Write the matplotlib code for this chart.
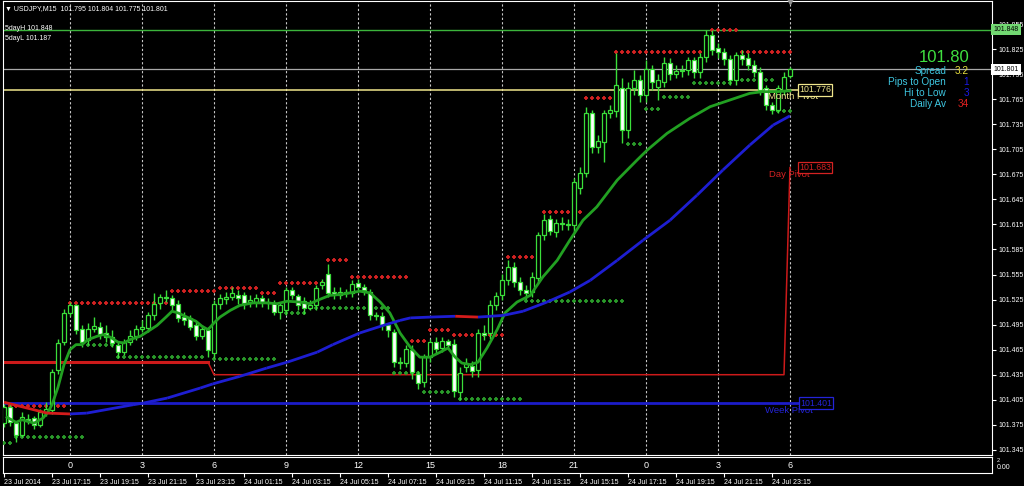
import matplotlib
matplotlib.use('Agg')
import matplotlib.pyplot as plt
import numpy as np
from matplotlib.transforms import blended_transform_factory

plt.rcParams['font.family'] = ['Liberation Sans', 'DejaVu Sans']

# ---- USDJPY M15 candles (23 Jul 15:15 .. 24 Jul) ----
opens = [101.377, 101.396, 101.377, 101.363, 101.382, 101.383, 101.375, 101.390, 101.393, 101.441,
         101.474, 101.509, 101.518, 101.490, 101.477, 101.490, 101.492, 101.485, 101.480, 101.471,
         101.462, 101.474, 101.481, 101.490, 101.491, 101.506, 101.521, 101.528, 101.527, 101.520,
         101.504, 101.503, 101.494, 101.481, 101.489, 101.461, 101.520, 101.526, 101.528, 101.530,
         101.530, 101.522, 101.522, 101.527, 101.522, 101.521, 101.510, 101.512, 101.536, 101.529,
         101.523, 101.515, 101.518, 101.542, 101.555, 101.534, 101.530, 101.534, 101.533, 101.545,
         101.540, 101.534, 101.506, 101.505, 101.494, 101.486, 101.450, 101.449, 101.465, 101.436,
         101.426, 101.456, 101.474, 101.467, 101.475, 101.472, 101.414, 101.444, 101.445, 101.441,
         101.485, 101.485, 101.518, 101.530, 101.548, 101.564, 101.546, 101.536, 101.534, 101.551,
         101.602, 101.621, 101.606, 101.617, 101.614, 101.614, 101.659, 101.677, 101.748, 101.708,
         101.714, 101.748, 101.751, 101.778, 101.728, 101.778, 101.788, 101.770, 101.801, 101.780,
         101.786, 101.808, 101.795, 101.800, 101.800, 101.812, 101.798, 101.815, 101.842, 101.826,
         101.821, 101.813, 101.788, 101.818, 101.814, 101.806, 101.798, 101.778, 101.758, 101.752,
         101.776, 101.793]
closes = [101.396, 101.378, 101.363, 101.384, 101.380, 101.375, 101.390, 101.394, 101.438, 101.473,
          101.509, 101.518, 101.489, 101.474, 101.490, 101.493, 101.484, 101.480, 101.473, 101.462,
          101.474, 101.481, 101.490, 101.492, 101.506, 101.520, 101.528, 101.527, 101.518, 101.503,
          101.500, 101.492, 101.481, 101.490, 101.465, 101.520, 101.527, 101.528, 101.533, 101.527,
          101.521, 101.524, 101.527, 101.522, 101.521, 101.510, 101.518, 101.536, 101.530, 101.518,
          101.515, 101.519, 101.539, 101.546, 101.533, 101.532, 101.534, 101.533, 101.544, 101.540,
          101.536, 101.506, 101.505, 101.494, 101.488, 101.450, 101.449, 101.466, 101.438, 101.425,
          101.456, 101.474, 101.466, 101.475, 101.471, 101.415, 101.437, 101.449, 101.439, 101.485,
          101.483, 101.518, 101.529, 101.548, 101.564, 101.546, 101.536, 101.533, 101.552, 101.602,
          101.620, 101.607, 101.617, 101.615, 101.616, 101.666, 101.677, 101.748, 101.708, 101.715,
          101.748, 101.752, 101.782, 101.728, 101.778, 101.788, 101.770, 101.801, 101.786, 101.788,
          101.808, 101.795, 101.799, 101.799, 101.812, 101.798, 101.815, 101.842, 101.824, 101.821,
          101.813, 101.788, 101.818, 101.813, 101.806, 101.798, 101.776, 101.758, 101.752, 101.778,
          101.792, 101.801]
highs = [101.400, 101.401, 101.380, 101.390, 101.388, 101.386, 101.394, 101.402, 101.442, 101.478,
         101.514, 101.522, 101.520, 101.494, 101.497, 101.504, 101.498, 101.494, 101.488, 101.475,
         101.478, 101.488, 101.494, 101.500, 101.510, 101.533, 101.532, 101.536, 101.530, 101.524,
         101.510, 101.506, 101.498, 101.494, 101.492, 101.524, 101.532, 101.534, 101.540, 101.536,
         101.534, 101.530, 101.532, 101.530, 101.527, 101.525, 101.522, 101.540, 101.540, 101.532,
         101.528, 101.524, 101.542, 101.550, 101.568, 101.540, 101.540, 101.538, 101.548, 101.550,
         101.544, 101.538, 101.510, 101.510, 101.496, 101.490, 101.456, 101.470, 101.470, 101.440,
         101.460, 101.478, 101.480, 101.480, 101.478, 101.478, 101.444, 101.455, 101.452, 101.490,
         101.494, 101.524, 101.534, 101.556, 101.572, 101.570, 101.552, 101.542, 101.558, 101.606,
         101.628, 101.626, 101.622, 101.624, 101.622, 101.670, 101.684, 101.756, 101.752, 101.722,
         101.752, 101.758, 101.820, 101.790, 101.785, 101.800, 101.794, 101.812, 101.806, 101.795,
         101.815, 101.814, 101.806, 101.806, 101.816, 101.816, 101.820, 101.848, 101.848, 101.832,
         101.826, 101.818, 101.822, 101.824, 101.820, 101.812, 101.804, 101.782, 101.762, 101.782,
         101.798, 101.804]
lows = [101.372, 101.374, 101.355, 101.360, 101.376, 101.370, 101.372, 101.386, 101.388, 101.436,
        101.470, 101.505, 101.484, 101.468, 101.470, 101.486, 101.478, 101.474, 101.468, 101.455,
        101.458, 101.470, 101.476, 101.486, 101.486, 101.500, 101.514, 101.522, 101.512, 101.498,
        101.494, 101.488, 101.476, 101.478, 101.456, 101.455, 101.514, 101.520, 101.524, 101.520,
        101.514, 101.516, 101.516, 101.516, 101.514, 101.506, 101.502, 101.506, 101.526, 101.512,
        101.508, 101.512, 101.512, 101.538, 101.528, 101.526, 101.526, 101.528, 101.528, 101.536,
        101.530, 101.500, 101.500, 101.488, 101.480, 101.444, 101.442, 101.444, 101.430, 101.418,
        101.420, 101.450, 101.460, 101.462, 101.466, 101.408, 101.405, 101.438, 101.432, 101.432,
        101.476, 101.478, 101.512, 101.524, 101.542, 101.540, 101.530, 101.526, 101.528, 101.545,
        101.596, 101.602, 101.600, 101.608, 101.608, 101.606, 101.652, 101.672, 101.700, 101.700,
        101.690, 101.742, 101.744, 101.712, 101.718, 101.770, 101.762, 101.762, 101.776, 101.764,
        101.780, 101.788, 101.790, 101.792, 101.794, 101.790, 101.790, 101.810, 101.818, 101.814,
        101.806, 101.782, 101.782, 101.806, 101.800, 101.792, 101.770, 101.752, 101.747, 101.748,
        101.770, 101.790]

# fast moving average (green), read at bar positions
ma_fast_x = [0.5, 2, 3, 5, 6.5, 7.3, 8, 9, 10, 11, 12, 13, 14, 15.5, 16.5, 17.7, 19, 20, 21, 22.7,
             23.8, 25.5, 27, 28, 29, 30.5, 32, 33, 34, 35, 36, 37.7, 39.3, 41.5, 43.8, 45.5, 47.2,
             49.3, 51, 52.2, 54.3, 56, 57.7, 59.3, 61, 62.7, 64.3, 66, 67.7, 69.3, 71, 72.7, 74,
             75.2, 76.3, 77.7, 79, 80.5, 82.2, 83.5, 85.5, 87.7, 89.8, 92.2, 94.3, 96.5, 98.8,
             102.2, 105.5, 107.2, 110.5, 114.3, 117.7, 121, 124.3, 126.5, 128.8, 131]
ma_fast = [101.384, 101.378, 101.381, 101.377, 101.383, 101.390, 101.399, 101.420, 101.447, 101.465,
           101.471, 101.471, 101.477, 101.481, 101.483, 101.480, 101.474, 101.473, 101.477, 101.481,
           101.486, 101.494, 101.504, 101.511, 101.509, 101.504, 101.499, 101.493, 101.489, 101.497,
           101.504, 101.512, 101.518, 101.521, 101.521, 101.520, 101.523, 101.522, 101.520, 101.524,
           101.530, 101.531, 101.533, 101.535, 101.533, 101.522, 101.509, 101.485, 101.468, 101.456,
           101.456, 101.462, 101.467, 101.456, 101.449, 101.447, 101.450, 101.467, 101.489, 101.509,
           101.522, 101.530, 101.552, 101.572, 101.596, 101.620, 101.636, 101.668, 101.692, 101.704,
           101.724, 101.742, 101.756, 101.764, 101.772, 101.774, 101.774, 101.775]

# slow moving average (blue rising / red falling)
ma_slow_x = [0, 7.2, 11, 13.8, 21.5, 23.2, 27.2, 32.7, 34.8, 39.3, 43.8, 47.2, 52.2, 54.8, 59.3,
             63.2, 66, 67.7, 71, 75.2, 79, 83.2, 86.5, 90.5, 94.3, 97.7, 102.2, 106.5, 111, 115.5,
             119.8, 124.3, 128.2, 131]
ma_slow = [101.402, 101.389, 101.388, 101.389, 101.399, 101.401, 101.407, 101.419, 101.424, 101.433,
           101.443, 101.450, 101.462, 101.471, 101.485, 101.494, 101.500, 101.503, 101.504, 101.505,
           101.504, 101.506, 101.511, 101.522, 101.534, 101.548, 101.572, 101.596, 101.620, 101.650,
           101.680, 101.710, 101.734, 101.745]

# resistance (red) and support (green) dot levels: start bar, end bar, price
res_start = [1, 11, 28, 36, 43, 46, 54, 58, 68, 71, 75, 84, 90, 97, 102, 118, 123]
res_end = [10, 27, 35, 42, 45, 53, 57, 67, 70, 74, 83, 89, 96, 101, 117, 122, 131]
res_price = [101.398, 101.521, 101.535, 101.539, 101.533, 101.545, 101.572, 101.552, 101.475,
             101.489, 101.483, 101.576, 101.630, 101.766, 101.821, 101.848, 101.821]
sup_start = [0, 2, 14, 19, 35, 47, 51, 65, 70, 76, 87, 104, 107, 110, 115, 123, 129]
sup_end = [1, 13, 18, 33, 45, 50, 64, 69, 74, 86, 103, 106, 109, 114, 121, 128, 131]
sup_price = [101.353, 101.360, 101.471, 101.456, 101.454, 101.509, 101.515, 101.437, 101.414,
             101.406, 101.523, 101.711, 101.753, 101.768, 101.784, 101.788, 101.751]

# day pivot line
day_pivot_x = [0, 34, 35, 130, 131]
day_pivot = [101.450, 101.450, 101.435, 101.435, 101.683]
month_pivot = 101.776
week_pivot = 101.401
five_day_high = 101.848
five_day_low = 101.187
last_price = 101.801

price_ticks = [101.345 + 0.030 * k for k in range(18)]
hour_bars = [11, 23, 35, 47, 59, 71, 83, 95, 107, 119, 131]
hour_labels = ['0', '3', '6', '9', '12', '15', '18', '21', '0', '3', '6']
date_bars = [0, 8, 16, 24, 32, 40, 48, 56, 64, 72, 80, 88, 96, 104, 112, 120, 128]
date_labels = ['23 Jul 2014', '23 Jul 17:15', '23 Jul 19:15', '23 Jul 21:15', '23 Jul 23:15',
               '24 Jul 01:15', '24 Jul 03:15', '24 Jul 05:15', '24 Jul 07:15', '24 Jul 09:15',
               '24 Jul 11:15', '24 Jul 13:15', '24 Jul 15:15', '24 Jul 17:15', '24 Jul 19:15',
               '24 Jul 21:15', '24 Jul 23:15']

W, H = 1024, 486
small = 5.0
fig = plt.figure(figsize=(W / 100, H / 100), dpi=100, facecolor='black')


def px_axes(x0, y0, x1, y1):
    a = fig.add_axes([x0 / W, 1 - y1 / H, (x1 - x0) / W, (y1 - y0) / H])
    a.set_facecolor('black')
    for s in a.spines.values():
        s.set_color('white')
    return a


ax = px_axes(3, 1, 992, 455)
sub = px_axes(3, 457, 992, 473)

# pixel scale: 101.855 at y=24, 835 px per unit, 6 px per bar starting x=4
ax.set_ylim(101.855 - (455 - 24) / 835, 101.855 + (24 - 1) / 835)
ax.set_xlim((3 - 4) / 6, (992 - 4) / 6)
sub.set_xlim(ax.get_xlim())
sub.set_ylim(0, 1)

candle = '#3ade3a'
o = np.array(opens)
c = np.array(closes)
idx = np.arange(len(o))

# hour grid
ax.vlines(hour_bars, *ax.get_ylim(), colors='#c8c8c8', linestyles=(0, (2, 2)), lw=0.8, zorder=1)

# horizontal levels
ax.axhline(five_day_high, color='#3cb43c', lw=1, zorder=2)
ax.axhline(last_price, color='#a8a8a8', lw=0.9, zorder=2)
ax.hlines(month_pivot, ax.get_xlim()[0], 132.5, color='#f0e68c', lw=1.1, zorder=2)
ax.hlines(week_pivot, ax.get_xlim()[0], 132.7, color='#1c1cc8', lw=2, zorder=2)
ax.plot(day_pivot_x[:2], day_pivot[:2], color='#cc1a1a', lw=2.2, zorder=2)
ax.plot(day_pivot_x[1:], day_pivot[1:], color='#cc1a1a', lw=1.1, zorder=2)

# dots
for s, e, p in zip(res_start, res_end, res_price):
    xs = np.arange(s, e + 1)
    ax.plot(xs, [p] * len(xs), ls='none', marker='+', ms=3.5, mew=1.3, color='#d42222', zorder=3)
for s, e, p in zip(sup_start, sup_end, sup_price):
    xs = np.arange(s, e + 1)
    ax.plot(xs, [p] * len(xs), ls='none', marker='+', ms=3.5, mew=1.3, color='#2a9a2a', zorder=3)

# candles
ax.vlines(idx, lows, highs, color=candle, lw=1, zorder=4)
body_low = np.minimum(o, c)
body_h = np.maximum(np.abs(c - o), 0.0012)
faces = ['black' if cc >= oo else 'white' for oo, cc in zip(o, c)]
ax.bar(idx, body_h, bottom=body_low, width=0.62, color=faces, edgecolor=candle, lw=0.9, zorder=5)

# moving averages
ax.plot(ma_fast_x, ma_fast, color='#22a022', lw=2, zorder=6)
for k in range(len(ma_slow) - 1):
    col = '#1e1ed2' if ma_slow[k + 1] > ma_slow[k] else '#d41c1c'
    ax.plot(ma_slow_x[k:k + 2], ma_slow[k:k + 2], color=col, lw=2, zorder=6, solid_capstyle='butt')

# pivot labels (text sits a few pixels under the level)
last = len(o) - 1
for val, txt, col, dxb, dxt in [(month_pivot, 'Month Pivot', '#f0e68c', 9, -22),
                               (day_pivot[-1], 'Day Pivot', '#d42222', 9, -21),
                               (week_pivot, 'Week Pivot', '#2424d8', 10, -25)]:
    ax.annotate('%.3f' % val, (last, val), xytext=(dxb, 0), textcoords='offset pixels',
                color=col, fontsize=6.3, va='center', ha='left', zorder=8,
                bbox=dict(boxstyle='square,pad=0.15', fc='black', ec=col, lw=0.9))
    ax.annotate(txt, (last, val), xytext=(dxt, -7), textcoords='offset pixels',
                color=col, fontsize=6.8, va='center', ha='left', zorder=7)

ax.plot(last, ax.get_ylim()[1], marker='v', ms=4, color='#909090', clip_on=False, zorder=9)

# right price axis
ax.yaxis.tick_right()
ax.set_yticks(price_ticks)
ax.set_yticklabels(['%.3f' % t for t in price_ticks])
ax.tick_params(axis='y', colors='white', labelsize=small, length=3, pad=2, width=0.8)
ax.set_xticks([])
tr = blended_transform_factory(ax.transAxes, ax.transData)
ax.text(1.0015, five_day_high, '%.3f' % five_day_high, transform=tr, fontsize=small, color='black',
        va='center', ha='left', zorder=9, bbox=dict(boxstyle='square,pad=0.3', fc='#72d872', ec='none'))
ax.text(1.0015, last_price, '%.3f' % last_price, transform=tr, fontsize=small, color='black',
        va='center', ha='left', zorder=9, bbox=dict(boxstyle='square,pad=0.3', fc='white', ec='none'))

# sub window with hour numbers and date axis
for b, lab in zip(hour_bars, hour_labels):
    sub.text(b, 0.45, lab, color='white', fontsize=6.5, ha='center', va='center')
sub.set_yticks([])
sub.set_xticks(date_bars)
sub.set_xticklabels(date_labels, ha='left')
sub.tick_params(axis='x', colors='white', labelsize=small, length=3, pad=1.5, width=0.8)
fig.text(997 / W, 1 - 460 / H, '2', color='white', fontsize=4, va='center')
fig.text(997 / W, 1 - 467 / H, '0.00', color='white', fontsize=small, va='center')

# header texts
fig.text(5 / W, 1 - 9 / H, '\u25bc USDJPY,M15  101.795 101.804 101.775 101.801', color='white',
         fontsize=small, va='center')
fig.text(5 / W, 1 - 28 / H, '5dayH %.3f' % five_day_high, color='white', fontsize=small, va='center')
fig.text(5 / W, 1 - 38 / H, '5dayL %.3f' % five_day_low, color='white', fontsize=small, va='center')

# info panel
fig.text(969 / W, 1 - 58 / H, '%.2f' % last_price, color='#40e040', fontsize=12, ha='right', va='center')
info_labels = ['Spread', 'Pips to Open', 'Hi to Low', 'Daily Av']
info_values = ['3.2', '1', '3', '34']
info_colors = ['#e8e040', '#1a1ae6', '#1a1ae6', '#e02020']
for k, (lab, val, col) in enumerate(zip(info_labels, info_values, info_colors)):
    y = 71 + 11 * k
    fig.text(946 / W, 1 - y / H, lab, color='#3ec6e0', fontsize=7.2, ha='right', va='center')
    fig.text(969 / W, 1 - y / H, val, color=col, fontsize=7.2, ha='right', va='center')

fig.savefig('out.png', dpi=100, facecolor='black')
